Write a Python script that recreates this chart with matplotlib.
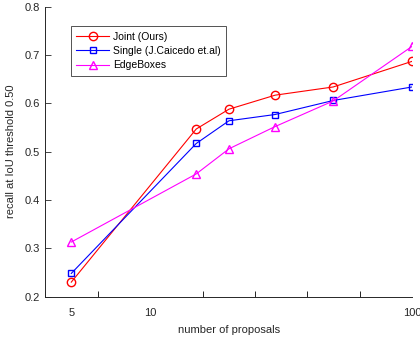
import numpy as np
import matplotlib
matplotlib.use('Agg')
import matplotlib.pyplot as plt

plt.rcParams['font.family'] = ['Liberation Sans', 'DejaVu Sans']

# data
n_proposals = [5, 15, 20, 30, 50, 100]
joint = [0.230, 0.547, 0.588, 0.617, 0.634, 0.687]
single = [0.248, 0.517, 0.564, 0.577, 0.606, 0.634]
edgeboxes = [0.313, 0.454, 0.506, 0.552, 0.605, 0.718]
labels = ['Joint (Ours)', 'Single (J.Caicedo et.al)', 'EdgeBoxes']
xtick_labels = [5, 10, 100]
yticks = [0.2, 0.3, 0.4, 0.5, 0.6, 0.7, 0.8]

fig = plt.figure(figsize=(4.2, 3.39), dpi=100)
ax = fig.add_axes([0.108, 0.125, 0.873, 0.855])

ax.plot(n_proposals, joint, color='red', marker='o', markersize=6,
        markerfacecolor='none', linewidth=0.8, label=labels[0])
ax.plot(n_proposals, single, color='blue', marker='s', markersize=4.5,
        markerfacecolor='none', linewidth=0.8, label=labels[1])
ax.plot(n_proposals, edgeboxes, color='magenta', marker='^', markersize=6,
        markerfacecolor='none', linewidth=0.8, label=labels[2])

ax.set_xscale('log')
ax.set_xlim(10 ** 0.6, 100)
ax.set_ylim(0.2, 0.8)

ax.set_xticks(xtick_labels)
ax.set_xticklabels([str(v) for v in xtick_labels])
ax.set_xticks(10 ** np.arange(0.6, 2.01, 0.2), minor=True)
ax.xaxis.set_minor_formatter(matplotlib.ticker.NullFormatter())
ax.tick_params(axis='x', which='major', length=0, pad=8)
ax.tick_params(axis='x', which='minor', direction='in', length=4, width=0.6)
ax.set_yticks(yticks)
ax.set_yticklabels(['%.1f' % v for v in yticks])
ax.tick_params(axis='y', direction='in', length=4, width=0.6, pad=4)
ax.tick_params(labelsize=8, colors='#262626')

for s in ['top', 'right']:
    ax.spines[s].set_visible(False)
for s in ['left', 'bottom']:
    ax.spines[s].set_linewidth(0.7)
    ax.spines[s].set_color('#262626')

ax.set_xlabel('number of proposals', fontsize=8, color='#262626', labelpad=5)
ax.set_ylabel('recall at IoU threshold 0.50', fontsize=8, color='#262626', labelpad=6)

leg = ax.legend(loc='upper left', bbox_to_anchor=(0.069, 0.932), fontsize=7.5,
                frameon=True, fancybox=False, edgecolor='#262626',
                handlelength=3.2, borderpad=0.5, labelspacing=0.42,
                handletextpad=0.4, borderaxespad=0)
leg.get_frame().set_linewidth(0.7)

fig.savefig('out.png', dpi=100)
